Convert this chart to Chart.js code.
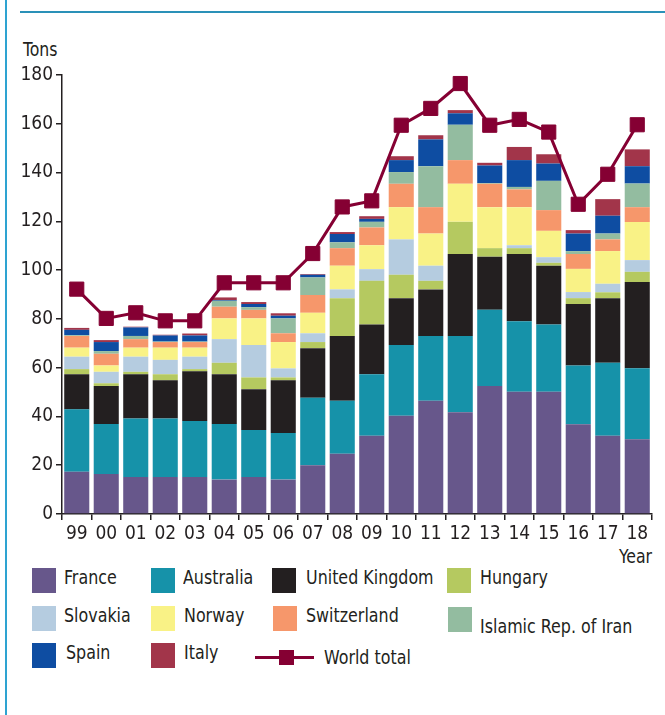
<!DOCTYPE html>
<html>
<head>
<meta charset="utf-8">
<script src="https://cdn.jsdelivr.net/npm/chart.js@4"></script>
<style>
  body { margin: 0; width: 665px; height: 715px; background: #fff; position: relative; overflow: hidden;
         font-family: "Liberation Sans Narrow", "DejaVu Sans Condensed", sans-serif; color: #231f20; }
  .frame-left { position: absolute; left: 5px; top: 0; width: 2px; height: 715px; background: #2ea3d1; }
  .frame-top { position: absolute; left: 20px; top: 11px; width: 645px; height: 2px; background: #2a91b8; }
  .lbl { position: absolute; font-size: 19px; line-height: 20px; transform: scaleX(0.92); transform-origin: left top; }
  #chartBox { position: absolute; left: 0; top: 0; width: 665px; height: 560px; }
  .sw { position: absolute; width: 24px; height: 25px; }
  .lt { position: absolute; font-size: 19px; line-height: 25px; white-space: nowrap;
        transform: scaleX(0.93); transform-origin: left top; }
</style>
</head>
<body>
<div class="frame-left"></div>
<div class="frame-top"></div>
<div class="lbl" style="left:23px;top:39px;">Tons</div>
<div class="lbl" style="left:619px;top:546px;">Year</div>
<div id="chartBox"><canvas id="myChart"></canvas></div>
<div id="legend"></div>

<script>
const years = ["99","00","01","02","03","04","05","06","07","08","09","10","11","12","13","14","15","16","17","18"];

const france      = [17.3,16.4,15.2,15.2,15.2,14.1,15.2,14.1,20.0,24.7,32.1,40.3,46.4,41.7,52.5,50.1,50.1,36.8,32.1,30.7];
const australia   = [25.6,20.5,24.0,24.0,22.9,22.8,19.2,19.1,27.7,21.7,25.2,29.0,26.6,31.3,31.2,28.9,27.6,24.1,29.9,29.1];
const unitedKingdom = [14.4,15.6,18.1,15.6,20.4,20.4,16.8,21.6,20.3,26.6,20.4,19.2,19.1,33.6,21.8,27.6,24.1,25.2,26.5,35.3];
const hungary     = [2.1,1.1,1.0,2.5,0.9,4.7,4.8,1.2,2.5,15.5,17.9,9.6,3.5,13.2,3.5,2.4,1.2,2.4,2.4,4.2];
const slovakia    = [5.1,4.7,6.2,5.9,5.1,9.7,13.3,3.7,3.6,3.6,4.8,14.5,6.2,0,0,1.2,2.3,2.5,3.5,4.8];
const norway      = [3.7,2.6,3.7,5.0,3.7,8.5,10.9,10.8,8.4,9.7,9.8,13.2,13.2,15.6,16.8,15.6,10.8,9.5,13.4,15.6];
const switzerland = [4.8,4.8,3.5,2.3,2.3,4.8,3.5,3.6,7.3,7.2,7.3,9.6,10.8,9.7,9.6,7.3,8.5,6.1,4.8,6.1];
const iran        = [0.3,1.1,1.3,0.2,0.2,2.4,1.1,6.1,7.2,2.4,2.3,4.8,16.8,14.5,0.3,1.0,12.0,1.2,2.4,9.7];
const spain       = [2.2,3.7,3.5,2.5,2.5,0.3,1.3,1.1,1.1,3.4,1.2,4.9,11.0,4.7,7.2,11.0,7.1,7.2,7.3,7.1];
const italy       = [0.8,0.8,0.3,0.3,0.8,1.1,0.8,1.0,0.3,0.8,1.1,1.6,1.7,1.3,1.1,5.4,3.8,1.4,6.8,6.9];
const worldTotal  = [92.2,80.2,82.5,79.2,79.2,94.8,94.8,94.8,106.8,125.9,128.4,159.4,166.3,176.5,159.4,161.8,156.6,127.0,139.3,159.6];

const yTicks = [0,20,40,60,80,100,120,140,160,180];

const series = [
  ["France", france, "#67578b"],
  ["Australia", australia, "#1692a9"],
  ["United Kingdom", unitedKingdom, "#231f20"],
  ["Hungary", hungary, "#b5c960"],
  ["Slovakia", slovakia, "#b5cce0"],
  ["Norway", norway, "#f9f286"],
  ["Switzerland", switzerland, "#f6976b"],
  ["Islamic Rep. of Iran", iran, "#93bca0"],
  ["Spain", spain, "#0e4da2"],
  ["Italy", italy, "#a2354a"]
];
const lineColor = "#850033";
const fontFam = '"Liberation Sans Narrow", "DejaVu Sans Condensed", sans-serif';

const datasets = series.map(s => ({
  type: "bar",
  label: s[0],
  data: s[1],
  backgroundColor: s[2],
  stack: "countries",
  barPercentage: 0.85,
  categoryPercentage: 1,
  order: 1
}));
datasets.push({
  type: "line",
  label: "World total",
  data: worldTotal,
  borderColor: lineColor,
  backgroundColor: lineColor,
  borderWidth: 3,
  pointStyle: "rect",
  pointRadius: 10,
  pointHoverRadius: 10,
  pointBorderWidth: 1,
  tension: 0,
  stack: "total",
  order: 0
});

new Chart(document.getElementById("myChart"), {
  type: "bar",
  data: { labels: years, datasets: datasets },
  options: {
    responsive: true,
    maintainAspectRatio: false,
    animation: false,
    layout: { padding: { top: 75, right: 13, left: 0, bottom: 0 } },
    plugins: { legend: { display: false }, tooltip: { enabled: false } },
    scales: {
      x: {
        stacked: true,
        grid: { display: true, drawOnChartArea: false, drawTicks: true, tickLength: 6, color: "#231f20", lineWidth: 1.5, offset: true },
        border: { display: true, color: "#231f20", width: 1.5 },
        ticks: { color: "#231f20", font: { family: fontFam, size: 19 }, padding: 3, maxRotation: 0, autoSkip: false },
        afterFit: (s) => { s.height = 46; }
      },
      y: {
        stacked: true,
        min: 0,
        max: 180,
        afterBuildTicks: (s) => { s.ticks = yTicks.map(v => ({ value: v })); },
        grid: { display: true, drawOnChartArea: false, drawTicks: true, tickLength: 6, color: "#231f20", lineWidth: 1.5 },
        border: { display: true, color: "#231f20", width: 1.5 },
        ticks: { color: "#231f20", font: { family: fontFam, size: 19 }, padding: 3 },
        afterFit: (s) => { s.width = 62; }
      }
    }
  }
});

// legend
const legendItems = [
  ["France", 32, 568, 64], ["Australia", 151, 568, 183], ["United Kingdom", 272, 568, 306], ["Hungary", 447, 568, 480],
  ["Slovakia", 32, 606, 64], ["Norway", 151, 606, 184], ["Switzerland", 273, 606, 306], ["Islamic Rep. of Iran", 448, 607, 480, 10],
  ["Spain", 32, 643, 66], ["Italy", 151, 643, 184]
];
const legend = document.getElementById("legend");
legendItems.forEach(it => {
  const col = series.find(s => s[0] === it[0])[2];
  const sw = document.createElement("div");
  sw.className = "sw";
  sw.style.left = it[1] + "px"; sw.style.top = it[2] + "px"; sw.style.background = col;
  legend.appendChild(sw);
  const t = document.createElement("div");
  t.className = "lt";
  t.textContent = it[0];
  t.style.left = it[3] + "px"; t.style.top = (it[2] - 3 + (it[4] || 0)) + "px";
  legend.appendChild(t);
});
// world total legend entry
const wl = document.createElement("div");
wl.style.cssText = "position:absolute;left:255px;top:656px;width:59px;height:3px;background:" + lineColor;
legend.appendChild(wl);
const wm = document.createElement("div");
wm.style.cssText = "position:absolute;left:279px;top:650px;width:15px;height:15px;background:" + lineColor;
legend.appendChild(wm);
const wt = document.createElement("div");
wt.className = "lt";
wt.textContent = "World total";
wt.style.left = "324px"; wt.style.top = "645px";
legend.appendChild(wt);
</script>
</body>
</html>
